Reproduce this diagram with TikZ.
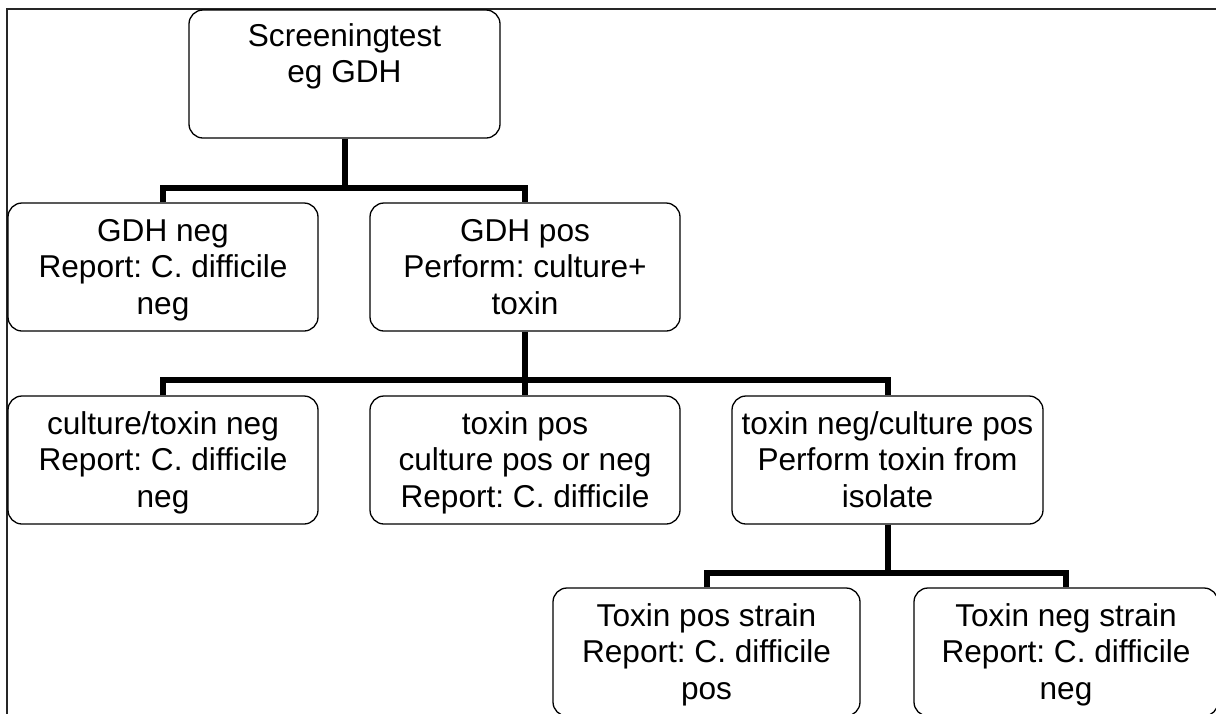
\documentclass[tikz,border=0pt]{standalone}
\usepackage{fontspec}
\setmainfont{Liberation Sans}
\frenchspacing
\newcommand{\bxtext}[3]{\parbox[c][128pt][t]{#1}{\centering\frenchspacing\rule{0pt}{#2}#3}}
\tikzset{
  x=1pt, y=1pt,
  flowbox/.style={draw=black, line width=1.3pt, rounded corners=14pt, inner sep=0pt,
    font=\fontsize{31.6}{36.5}\selectfont},
  conn/.style={draw=black, line width=6pt, line join=miter},
  frameline/.style={draw=black!85, line width=2pt}
}
\begin{document}
\begin{tikzpicture}
\useasboundingbox (0,0) rectangle (1216,-713);
\fill[white] (0,0) rectangle (1216,-713);
\draw[frameline] (7,-720) -- (7,-9) -- (1222,-9);

\node[flowbox] (top) at (344.5,-74) {\bxtext{311pt}{36pt}{Screeningtest\\eg GDH}};

\node[flowbox] (n1) at (163,-267) {\bxtext{310pt}{38pt}{GDH neg\\Report: C. difficile\\neg}};
\node[flowbox] (n2) at (525,-267) {\bxtext{310pt}{38pt}{GDH pos\\Perform: culture+\\toxin}};

\node[flowbox] (m1) at (163,-460) {\bxtext{310pt}{38pt}{culture/toxin neg\\Report: C. difficile\\neg}};
\node[flowbox] (m2) at (525,-460) {\bxtext{310pt}{38pt}{toxin pos\\culture pos or neg\\Report: C. difficile}};
\node[flowbox] (m3) at (887.5,-460) {\bxtext{311pt}{38pt}{toxin neg/culture pos\\Perform toxin from\\isolate}};

\node[flowbox] (k1) at (706.5,-652) {\bxtext{307pt}{38pt}{Toxin pos strain\\Report: C. difficile\\pos}};
\node[flowbox] (k2) at (1066,-652) {\bxtext{304pt}{38pt}{Toxin neg strain\\Report: C. difficile\\neg}};

\coordinate (j1) at (344.5,-188);
\coordinate (j2) at (525,-380);
\coordinate (j3) at (887.5,-573);

\draw[conn] (top.south) -- (j1);
\draw[conn] (n1.north) |- (j1) -| (n2.north);

\draw[conn] (n2.south) -- (j2);
\draw[conn] (m1.north) |- (j2) -| (m3.north);
\draw[conn] (j2) -- (m2.north);

\draw[conn] (m3.south) -- (j3);
\draw[conn] (k1.north) |- (j3) -| (k2.north);
\end{tikzpicture}
\end{document}
